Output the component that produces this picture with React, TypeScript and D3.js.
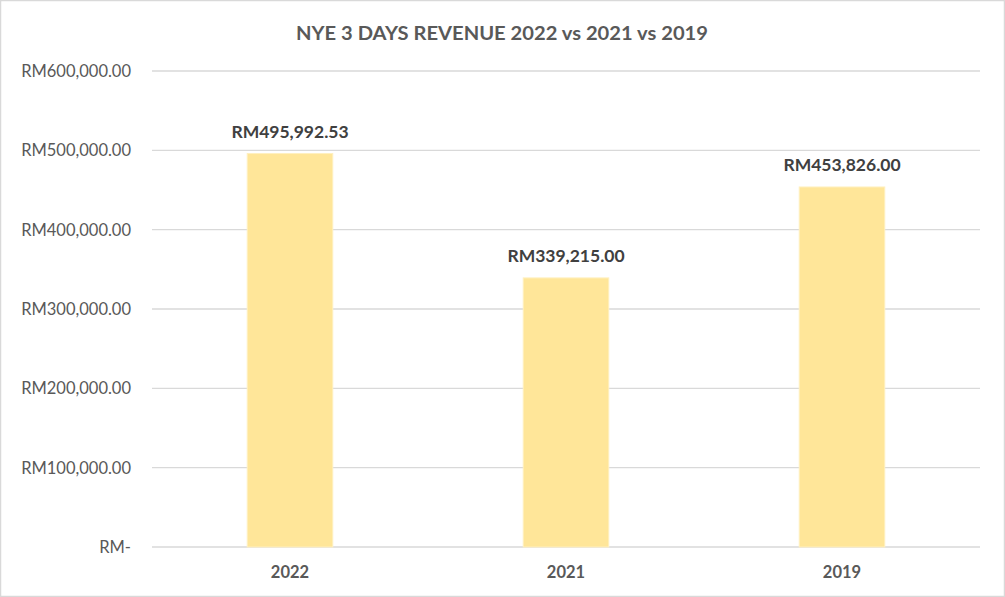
import React from "react";
import * as d3 from "d3";

const categories = ["2022", "2021", "2019"];
const revenues = [495992.53, 339215.0, 453826.0];
const yTicks = [0, 100000, 200000, 300000, 400000, 500000, 600000];
const title = "NYE 3 DAYS REVENUE 2022 vs 2021 vs 2019";

const W = 1005;
const H = 597;
const FONT = "Lato, 'Open Sans', sans-serif";

const money = (v: number) =>
  v === 0 ? "RM-" : "RM" + d3.format(",.2f")(v);

export default function App() {
  const x = d3
    .scaleBand<string>()
    .domain(categories)
    .range([152, 980])
    .paddingInner(0.69)
    .paddingOuter(0.345);
  const y = d3.scaleLinear().domain([0, 600000]).range([547, 71]);

  return (
    <div style={{ position: "absolute", left: 0, top: 0 }}>
      <svg width={W} height={H} style={{ display: "block" }}>
        <rect x={0.5} y={0.5} width={W - 1} height={H - 1} fill="#fff" stroke="#d9d9d9" strokeWidth={1.5} />
        <text
          x={(296 + 708) / 2}
          y={32}
          textAnchor="middle"
          dominantBaseline="central"
          fontFamily={FONT}
          fontSize={19.5}
          fontWeight="bold"
          fill="#595959"
          textLength={412}
          lengthAdjust="spacingAndGlyphs"
        >
          {title}
        </text>
        {yTicks.map((t) => (
          <g key={t}>
            <line x1={152} x2={980} y1={y(t)} y2={y(t)} stroke="#d9d9d9" strokeWidth={1.3} />
            <text
              x={131}
              y={y(t)}
              textAnchor="end"
              dominantBaseline="central"
              fontFamily={FONT}
              fontSize={16.5}
              fill="#595959"
            >
              {money(t)}
            </text>
          </g>
        ))}
        {categories.map((c, i) => (
          <g key={c}>
            <rect
              x={x(c)!}
              y={y(revenues[i])}
              width={x.bandwidth()}
              height={y(0) - y(revenues[i])}
              fill="#ffe699"
              stroke="#fff0c0"
              strokeWidth={1}
            />
            <text
              x={x(c)! + x.bandwidth() / 2}
              y={y(revenues[i]) - 16}
              textAnchor="middle"
              fontFamily={FONT}
              fontSize={17.5}
              fontWeight="bold"
              fill="#404040"
            >
              {money(revenues[i])}
            </text>
            <text
              x={x(c)! + x.bandwidth() / 2}
              y={572}
              textAnchor="middle"
              dominantBaseline="central"
              fontFamily={FONT}
              fontSize={16.5}
              fontWeight="bold"
              fill="#595959"
            >
              {c}
            </text>
          </g>
        ))}
      </svg>
    </div>
  );
}
